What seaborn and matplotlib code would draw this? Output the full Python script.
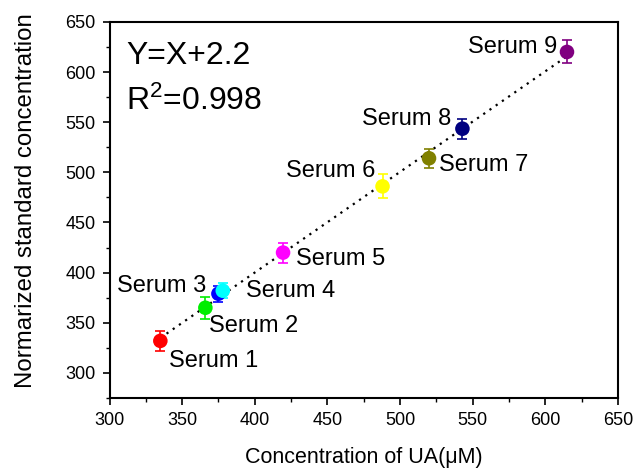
import numpy as np
import pandas as pd
import matplotlib
matplotlib.use("Agg")
import matplotlib.pyplot as plt
import seaborn as sns

# ---- data ----
labels = ["Serum 1", "Serum 2", "Serum 3", "Serum 4", "Serum 5",
          "Serum 6", "Serum 7", "Serum 8", "Serum 9"]
conc_ua = [335, 366, 375, 378, 419.5, 488, 520, 543, 615]
norm_std = [332, 365, 379, 382, 420, 486, 514, 543.5, 620]
err = [10, 11, 8, 7.5, 10, 12, 9.5, 10, 11.5]
colors = ["#FF0000", "#00EE00", "#0000FF", "#00FFFF", "#FF00FF",
          "#FFFF00", "#808000", "#000080", "#800080"]
x_ticks = [300, 350, 400, 450, 500, 550, 600, 650]
y_ticks = [300, 350, 400, 450, 500, 550, 600, 650]
eq_text = "Y=X+2.2"
r2_text = "R$^2$=0.998"

sns.set_style("ticks")
plt.rcParams["font.family"] = ["Liberation Sans", "DejaVu Sans"]
plt.rcParams["mathtext.fontset"] = "custom"
plt.rcParams["mathtext.rm"] = "Liberation Sans"
plt.rcParams["mathtext.it"] = "Liberation Sans:italic"
plt.rcParams["text.color"] = "black"
plt.rcParams["axes.labelcolor"] = "black"
plt.rcParams["xtick.color"] = "black"
plt.rcParams["ytick.color"] = "black"

df = pd.DataFrame({"x": conc_ua, "y": norm_std, "err": err, "label": labels})

fig = plt.figure(figsize=(6.33, 4.75), dpi=100)
ax = fig.add_axes([0.173, 0.162, 0.803, 0.792])

# fit line (dotted)
sns.regplot(data=df, x="x", y="y", scatter=False, ci=None, ax=ax,
            line_kws=dict(color="black", lw=1.6, linestyle=(0, (1, 2.4))))

# error bars
for xi, yi, ei, c in zip(conc_ua, norm_std, err, colors):
    ax.errorbar(xi, yi, yerr=ei, fmt="none", ecolor=c, elinewidth=1.2,
                capsize=3.3, capthick=1.2, zorder=3)

sns.scatterplot(data=df, x="x", y="y", hue="label", palette=colors,
                s=110, edgecolor="none", legend=False, ax=ax, zorder=4)

# labels
offsets = [(6.5, -14.4, "left"), (2.9, -13, "left"), (-8.6, 5.8, "right"),
           (16.6, 0, "left"), (9.4, -4.3, "left"), (-5, 10.8, "right"),
           (7.2, -5, "left"), (-7.9, 7.2, "right"), (-7.2, 3.6, "right")]
for lab, xi, yi, (dx, dy, ha) in zip(labels, conc_ua, norm_std, offsets):
    ax.annotate(lab, (xi, yi), xytext=(dx, dy), textcoords="offset points",
                ha=ha, va="center", fontsize=17, color="black")

ax.text(0.033, 0.91, eq_text, transform=ax.transAxes, fontsize=23,
        ha="left", va="center", color="black")
ax.text(0.033, 0.79, r2_text, transform=ax.transAxes, fontsize=23,
        ha="left", va="center", color="black")

ax.set_xlim(300, 650)
ax.set_ylim(275, 650)
ax.set_xticks(x_ticks)
ax.set_yticks(y_ticks)
ax.set_xticks(np.arange(325, 650, 50), minor=True)
ax.set_yticks(np.arange(275, 650, 25), minor=True)
ax.tick_params(axis="both", which="major", direction="out", length=5,
               width=1.2, labelsize=13, pad=5, colors="black")
ax.tick_params(axis="both", which="minor", direction="out", length=3,
               width=1.0, colors="black")
for side in ["top", "right", "left", "bottom"]:
    ax.spines[side].set_visible(True)
    ax.spines[side].set_linewidth(1.5)
    ax.spines[side].set_color("black")

ax.set_xlabel("Concentration of UA(μM)", fontsize=15.5, labelpad=13,
              color="black")
ax.set_ylabel("Normarized standard concentration", fontsize=17.3,
              color="black")
ax.yaxis.set_label_coords(-0.142, 0.525)

fig.savefig("out.png", dpi=100)
